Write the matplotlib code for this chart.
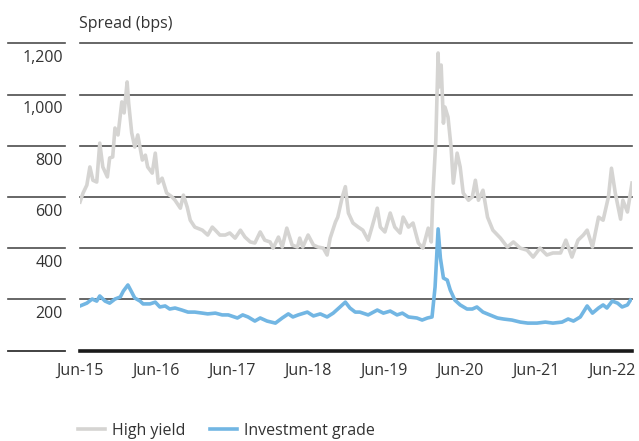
import matplotlib.pyplot as plt
from matplotlib.transforms import blended_transform_factory

# spreads (decimal year, bps)
hy_year = [2015.42, 2015.46, 2015.51, 2015.55, 2015.59, 2015.64, 2015.68, 2015.72, 2015.78, 2015.81,
           2015.85, 2015.88, 2015.92, 2015.97, 2016.00, 2016.04, 2016.06, 2016.10, 2016.14, 2016.18,
           2016.24, 2016.28, 2016.31, 2016.37, 2016.41, 2016.45, 2016.50, 2016.56, 2016.63, 2016.67,
           2016.74, 2016.78, 2016.83, 2016.87, 2016.93, 2017.03, 2017.10, 2017.16, 2017.20, 2017.26,
           2017.33, 2017.39, 2017.46, 2017.53, 2017.59, 2017.66, 2017.72, 2017.79, 2017.85, 2017.92,
           2017.96, 2018.03, 2018.08, 2018.14, 2018.21, 2018.28, 2018.31, 2018.35, 2018.42, 2018.49,
           2018.55, 2018.62, 2018.67, 2018.71, 2018.78, 2018.81, 2018.87, 2018.91, 2018.95, 2019.01,
           2019.08, 2019.14, 2019.21, 2019.26, 2019.33, 2019.37, 2019.43, 2019.50, 2019.56, 2019.63,
           2019.67, 2019.74, 2019.80, 2019.87, 2019.93, 2020.00, 2020.04, 2020.06, 2020.10, 2020.13,
           2020.14, 2020.17, 2020.20, 2020.22, 2020.26, 2020.30, 2020.33, 2020.38, 2020.42, 2020.46,
           2020.53, 2020.58, 2020.62, 2020.66, 2020.72, 2020.78, 2020.85, 2020.95, 2021.04, 2021.12,
           2021.21, 2021.30, 2021.38, 2021.47, 2021.56, 2021.64, 2021.74, 2021.81, 2021.89, 2021.97,
           2022.04, 2022.09, 2022.16, 2022.24, 2022.30, 2022.37, 2022.41, 2022.46, 2022.53, 2022.56,
           2022.62, 2022.68]
hy_bps = [580, 615, 646, 717, 665, 658, 810, 717, 678, 752,
          756, 869, 842, 971, 928, 1049, 966, 850, 795, 842,
          744, 763, 717, 693, 771, 654, 673, 615, 600, 587,
          556, 607, 560, 509, 482, 470, 451, 482, 470, 451,
          451, 459, 439, 470, 443, 424, 420, 463, 431, 424,
          400, 443, 404, 478, 412, 404, 439, 404, 451, 412,
          404, 400, 373, 439, 502, 521, 600, 640, 537, 498,
          482, 470, 431, 482, 556, 482, 463, 537, 482, 459,
          521, 482, 498, 420, 400, 478, 424, 600, 822, 1162,
          1029, 1115, 888, 951, 912, 795, 654, 771, 717, 615,
          587, 600, 665, 587, 626, 521, 470, 439, 404, 424,
          400, 392, 365, 400, 373, 381, 381, 431, 365, 431,
          451, 470, 404, 521, 509, 600, 712, 615, 513, 587,
          541, 654]

ig_year = [2015.42, 2015.51, 2015.58, 2015.64, 2015.68, 2015.75, 2015.81, 2015.88, 2015.95, 2015.99,
           2016.05, 2016.10, 2016.14, 2016.21, 2016.25, 2016.34, 2016.41, 2016.47, 2016.54, 2016.60,
           2016.67, 2016.76, 2016.84, 2016.93, 2017.03, 2017.10, 2017.20, 2017.29, 2017.37, 2017.49,
           2017.56, 2017.63, 2017.72, 2017.79, 2017.88, 2017.99, 2018.08, 2018.16, 2018.22, 2018.29,
           2018.41, 2018.49, 2018.58, 2018.67, 2018.75, 2018.84, 2018.91, 2018.97, 2019.04, 2019.10,
           2019.21, 2019.33, 2019.41, 2019.50, 2019.59, 2019.66, 2019.74, 2019.85, 2019.92, 2019.99,
           2020.05, 2020.09, 2020.13, 2020.16, 2020.20, 2020.25, 2020.29, 2020.35, 2020.42, 2020.51,
           2020.58, 2020.64, 2020.72, 2020.81, 2020.91, 2020.99, 2021.10, 2021.21, 2021.31, 2021.43,
           2021.54, 2021.64, 2021.76, 2021.84, 2021.91, 2022.00, 2022.09, 2022.16, 2022.24, 2022.30,
           2022.35, 2022.42, 2022.49, 2022.55, 2022.62, 2022.66]
ig_bps = [174, 185, 201, 193, 213, 193, 185, 201, 209, 232,
          256, 228, 205, 193, 182, 182, 189, 170, 174, 162,
          166, 158, 150, 150, 146, 143, 146, 139, 139, 127,
          139, 131, 115, 127, 115, 107, 127, 143, 131, 139,
          150, 135, 143, 131, 146, 170, 189, 166, 150, 150,
          139, 158, 146, 154, 139, 146, 131, 127, 119, 127,
          131, 248, 475, 361, 283, 275, 236, 197, 178, 162,
          162, 170, 150, 139, 127, 123, 119, 111, 107, 107,
          111, 107, 111, 123, 115, 131, 174, 146, 166, 178,
          166, 193, 185, 170, 178, 197]

y_ticks = [200, 400, 600, 800, 1000, 1200]
y_labels = ['200', '400', '600', '800', '1,000', '1,200']
x_ticks = [2015.42 + k for k in range(8)]
x_labels = ['Jun-15', 'Jun-16', 'Jun-17', 'Jun-18', 'Jun-19', 'Jun-20', 'Jun-21', 'Jun-22']

plt.rcParams['font.family'] = ['Open Sans', 'DejaVu Sans']
txt = '#333333'
fs = 11.5

fig = plt.figure(figsize=(6.39, 4.41), dpi=100)
ax = fig.add_axes([80 / 639, 90.5 / 441, 552 / 639, 307.2 / 441])
ax.set_xlim(2015.42, 2022.68)
ax.set_ylim(0, 1200)
for s in ax.spines.values():
    s.set_visible(False)
ax.set_yticks([])

# grid: long lines in the plot plus short stubs over the labels
trans = blended_transform_factory(ax.transAxes, ax.transData)
for v, lab in zip(y_ticks, y_labels):
    ax.axhline(v, color='#4d4d4d', lw=1.2, zorder=1, clip_on=False)
    ax.plot([-0.1304, -0.0272], [v, v], transform=trans, color='#4d4d4d', lw=1.2, clip_on=False)
    ax.text(-0.031, v - 58, lab, transform=trans, ha='right', va='center', fontsize=fs, color=txt)
ax.plot([-0.1304, -0.0272], [0, 0], transform=trans, color='#333333', lw=1.3, clip_on=False)
ax.axhline(0, color='#1a1a1a', lw=2.6, zorder=4, clip_on=False)

ax.plot(hy_year, hy_bps, color='#d5d4d2', lw=2.6, zorder=2, label='High yield')
ax.plot(ig_year, ig_bps, color='#72b6e3', lw=2.6, zorder=3, label='Investment grade')

ax.set_xticks(x_ticks, x_labels)
ax.tick_params(axis='x', length=0, pad=9, labelsize=fs, labelcolor=txt)

fig.text(79 / 639, 1 - 24 / 441, 'Spread (bps)', ha='left', va='center', fontsize=fs, color=txt)

fig.legend(loc='center left', bbox_to_anchor=(78 / 639, 10 / 441), ncol=2, frameon=False,
           fontsize=fs, handlelength=1.7, handletextpad=0.45, columnspacing=1.5,
           borderpad=0, borderaxespad=0, labelcolor=txt)

fig.savefig('out.png', dpi=100)
